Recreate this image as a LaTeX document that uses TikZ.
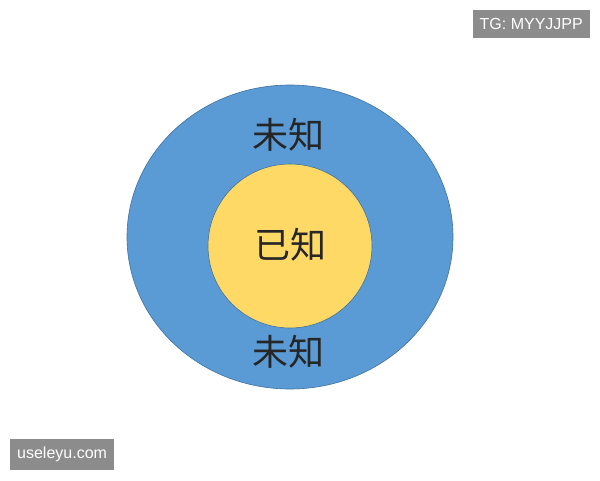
\documentclass[tikz,border=0pt]{standalone}
\usepackage{fontspec}
\newfontfamily\cjk{Noto Sans CJK SC}
\setmainfont{Liberation Sans}
\usetikzlibrary{positioning, shapes.geometric}
\definecolor{outerblue}{HTML}{5B9BD5}
\definecolor{innergold}{HTML}{FFD966}
\definecolor{rimblue}{HTML}{41719C}
\begin{document}
\begin{tikzpicture}[x=1pt, y=-1pt,
        every node/.style={inner sep=0pt},
        zone/.style={font=\cjk\fontsize{36}{40}\selectfont, text=black!85},
        wmark/.style={fill=black!45, text=white, font=\fontsize{16}{19}\selectfont, inner xsep=7pt, inner ysep=8pt}
    ]
    \useasboundingbox (0,0) rectangle (600,480);
    % 外圈与内圈
    \node[ellipse, draw=rimblue, fill=outerblue, line width=0.6pt,
          minimum width=326pt, minimum height=304pt] (outer) at (290,237) {};
    \node[circle, draw=rimblue, fill=innergold, line width=0.6pt,
          minimum size=164pt] (inner) at (290,246) {};

    % 文字
    \node[zone] (top) at (288,135) {未知};
    \node[zone] (mid) at (290,245) {已知};
    \node[zone] (bot) at (288,352) {未知};

    % 水印
    \node[wmark, anchor=north east] (tg) at (590,10) {TG: MYYJJPP};
    \node[wmark, anchor=south west] (site) at (10,470) {useleyu.com};
\end{tikzpicture}
\end{document}
